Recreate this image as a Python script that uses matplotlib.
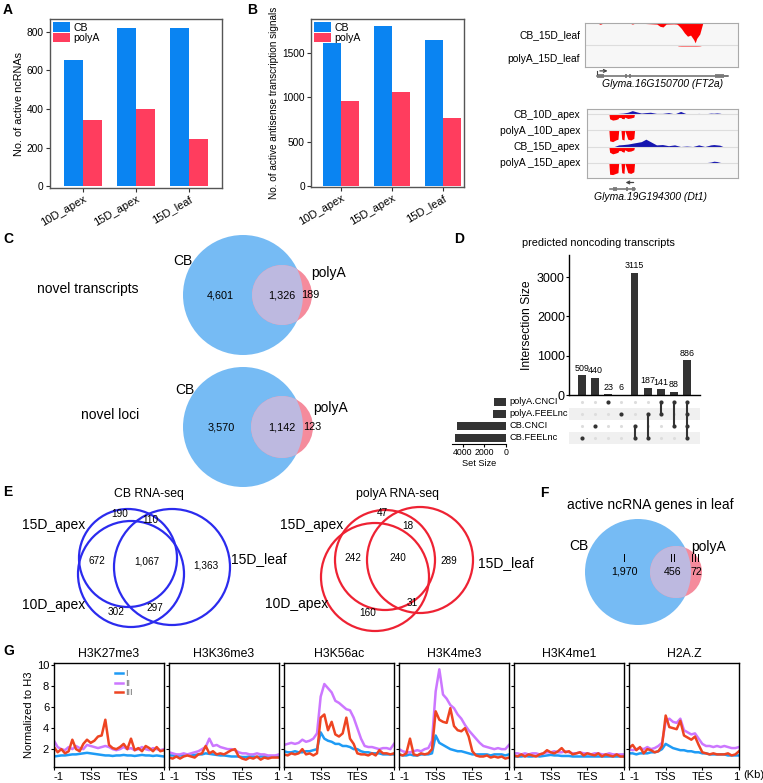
import numpy as np
import matplotlib
matplotlib.use('Agg')
import matplotlib.pyplot as plt
from matplotlib.patches import Circle, Rectangle

plt.rcParams['font.family'] = ['Liberation Sans', 'DejaVu Sans']

# ---------------- data ----------------
cats = ['10D_apex', '15D_apex', '15D_leaf']
a_cb = [655, 820, 822]
a_polya = [345, 400, 245]
b_cb = [1615, 1800, 1650]
b_polya = [955, 1060, 765]

# genome tracks (positions in % of window, depth as fraction of row)
ft2a_pos = [8, 10, 12, 29, 31, 33, 47, 49, 51, 53, 58, 60, 61, 63, 65, 67, 69, 71, 72, 73, 75, 77]
ft2a_cb = [0, 0.06, 0, 0, 0.05, 0, 0.05, 0.15, 0.18, 0.05, 0.04, 0.05, 0.1, 0.25, 0.45, 0.6, 0.55, 0.75, 0.9, 0.7, 0.5, 0]
ft2a_pa = [0, 0, 0, 0, 0, 0, 0, 0, 0, 0, 0, 0, 0.05, 0.06, 0.06, 0.06, 0.06, 0.06, 0.06, 0.06, 0.05, 0]
ft2a_exons = [(7.6, 12.4), (26, 27.2), (29, 30.2), (84.8, 90.7)]
ft2a_utr = [(90.7, 93.5)]
ft2a_span = (7.6, 93.5)

dt1_pos = [14.5, 15, 17, 19, 20.5, 21, 22.5, 23, 24.5, 25, 27, 29, 31, 31.5]
dt1_pa10 = [0, 0.65, 0.7, 0.6, 0.55, 0, 0, 0.55, 0.6, 0, 0.55, 0.6, 0.5, 0]
dt1_pa15 = [0, 0.7, 0.72, 0.65, 0.6, 0, 0, 0.6, 0.65, 0, 0.6, 0.65, 0.55, 0]
dt1_cb10 = [0, 0.3, 0.38, 0.35, 0.3, 0.22, 0.22, 0.28, 0.3, 0.2, 0.28, 0.25, 0.2, 0]
dt1_cb15 = [0, 0.35, 0.45, 0.4, 0.35, 0.25, 0.25, 0.3, 0.35, 0.2, 0.3, 0.28, 0.2, 0]
blue_pos = [18, 21, 24, 27, 30, 33, 36, 39, 42, 46, 50, 54, 58, 62, 66, 70, 74, 78, 82, 84, 86, 88, 90]
blue_cb10 = [0, 0.03, 0.05, 0.1, 0.2, 0.12, 0.05, 0.08, 0.1, 0.03, 0.03, 0.08, 0, 0.15, 0, 0, 0.03, 0, 0.05, 0.04, 0.06, 0.04, 0]
blue_cb15 = [0, 0.1, 0.12, 0.15, 0.2, 0.25, 0.3, 0.45, 0.3, 0.1, 0.12, 0.05, 0.1, 0, 0.03, 0, 0.1, 0, 0.1, 0.12, 0.1, 0.08, 0]
blue_pa15 = [0, 0, 0, 0, 0, 0, 0, 0, 0, 0, 0, 0, 0, 0.02, 0, 0, 0, 0, 0.05, 0.1, 0.08, 0.03, 0]
dt1_exons = [(17.5, 20), (25.8, 27), (29.5, 31.7)]
dt1_span = (15.3, 31.7)

c_trans = [4601, 1326, 189]
c_loci = [3570, 1142, 123]

upset_sets = ['polyA.CNCI', 'polyA.FEELnc', 'CB.CNCI', 'CB.FEELnc']
upset_sizes = [509, 440, 23, 6, 3115, 187, 141, 88, 886]
upset_members = [[3], [2], [0], [1], [2, 3], [1, 3], [0, 1], [0, 2], [0, 1, 2, 3]]
set_sizes = [sum(s for s, m in zip(upset_sizes, upset_members) if i in m) for i in range(4)]

e_cb = {'190': 190, '110': 110, '672': 672, '1067': 1067, '1363': 1363, '302': 302, '297': 297}
e_pa = {'47': 47, '18': 18, '242': 242, '240': 240, '289': 289, '160': 160, '31': 31}
f_vals = [1970, 456, 72]

g_marks = ['H3K27me3', 'H3K36me3', 'H3K56ac', 'H3K4me3', 'H3K4me1', 'H2A.Z']
g_x = [i / 10 for i in range(31)]
g_I = [
    [1.3,1.35,1.4,1.4,1.45,1.5,1.5,1.55,1.6,1.65,1.6,1.55,1.5,1.45,1.4,1.4,1.35,1.4,1.4,1.45,1.4,1.4,1.35,1.4,1.45,1.4,1.4,1.35,1.4,1.35,1.3],
    [1.4,1.4,1.35,1.4,1.4,1.45,1.4,1.45,1.5,1.5,1.6,1.55,1.5,1.45,1.4,1.4,1.35,1.3,1.3,1.3,1.25,1.25,1.3,1.3,1.25,1.3,1.3,1.3,1.3,1.3,1.3],
    [1.8,1.7,1.7,1.8,1.7,1.7,1.8,1.8,1.9,2.0,3.6,3.0,2.8,2.7,2.5,2.5,2.3,2.3,2.2,2.0,2.0,1.8,1.7,1.7,1.6,1.6,1.6,1.5,1.5,1.5,1.5],
    [1.5,1.4,1.4,1.5,1.4,1.4,1.5,1.5,1.5,1.6,3.3,2.6,2.4,2.2,2.0,1.9,1.8,1.8,1.7,1.6,1.5,1.5,1.5,1.5,1.5,1.4,1.5,1.5,1.5,1.4,1.5],
    [1.3,1.3,1.3,1.35,1.3,1.3,1.35,1.3,1.35,1.4,1.45,1.4,1.4,1.35,1.35,1.35,1.3,1.3,1.3,1.3,1.3,1.3,1.3,1.3,1.3,1.3,1.3,1.3,1.3,1.3,1.3],
    [1.6,1.6,1.5,1.6,1.6,1.6,1.7,1.7,1.8,2.0,2.5,2.3,2.1,2.0,1.9,1.9,1.8,1.8,1.7,1.7,1.6,1.6,1.5,1.5,1.5,1.5,1.5,1.4,1.4,1.4,1.4],
]
g_II = [
    [2.8,2.2,2.0,1.9,2.2,2.0,2.3,2.1,2.0,2.4,2.3,2.2,2.1,2.2,2.3,2.2,2.0,1.9,2.0,2.2,2.0,2.1,1.9,2.0,2.2,2.0,1.9,2.1,2.0,1.9,2.0],
    [1.7,1.6,1.5,1.5,1.6,1.5,1.6,1.7,1.8,2.0,2.2,3.0,2.3,2.4,2.2,2.1,2.0,2.0,1.9,1.7,1.6,1.6,1.5,1.5,1.6,1.5,1.5,1.4,1.4,1.4,1.5],
    [2.4,2.5,2.6,2.5,2.6,2.9,2.7,2.8,3.0,3.5,7.0,8.2,7.8,7.4,6.6,6.4,6.1,5.8,5.7,5.0,4.0,3.0,2.3,2.2,2.2,2.1,2.0,2.1,2.1,2.0,2.5],
    [2.0,1.8,1.7,1.7,1.8,1.9,1.8,2.0,2.1,2.8,7.5,9.6,7.2,6.8,6.2,5.9,5.3,4.9,4.3,3.8,3.4,3.0,2.6,2.3,2.2,2.1,2.0,2.1,2.0,2.0,2.4],
    [1.6,1.6,1.5,1.6,1.5,1.6,1.6,1.5,1.6,1.7,1.7,1.8,1.7,1.7,1.8,1.7,1.6,1.6,1.7,1.6,1.6,1.5,1.6,1.6,1.5,1.5,1.6,1.5,1.5,1.5,1.5],
    [2.0,1.9,2.0,2.1,2.0,2.2,2.0,2.1,2.3,2.6,4.6,4.9,4.6,4.5,4.9,3.8,3.6,3.4,3.5,3.0,2.5,2.3,2.3,2.2,2.3,2.2,2.3,2.2,2.1,2.1,2.2],
]
g_III = [
    [2.2,1.7,2.0,1.6,1.8,2.9,2.0,1.8,2.5,2.9,2.6,2.8,3.2,3.3,4.8,2.4,2.1,2.0,2.2,2.5,2.0,3.0,1.9,2.1,1.8,2.3,2.1,1.8,2.2,1.8,1.9],
    [1.2,1.1,1.3,1.1,1.3,1.4,1.3,1.2,1.5,1.6,2.3,1.6,1.8,1.5,1.6,1.5,1.7,1.9,2.0,1.3,1.1,1.0,1.2,1.1,1.3,1.0,1.2,1.1,1.2,1.2,1.2],
    [1.5,1.4,1.6,1.5,1.6,2.0,1.5,1.6,1.4,1.6,5.0,5.3,3.8,4.6,3.4,3.2,3.5,5.0,3.0,2.5,1.6,1.5,1.5,1.4,1.6,1.4,1.9,1.6,1.6,1.5,1.6],
    [1.5,1.4,1.6,3.0,1.5,1.4,1.6,1.5,1.6,2.0,5.6,4.8,4.6,4.5,5.9,4.2,3.8,3.7,4.0,3.2,1.8,1.4,1.3,1.3,1.4,1.2,1.3,1.2,1.3,1.1,1.2],
    [1.4,1.3,1.5,1.3,1.5,1.4,1.3,1.5,1.6,1.9,1.7,1.6,1.8,2.1,1.7,1.8,1.5,1.6,1.7,1.4,1.6,1.5,1.4,1.6,1.3,1.5,1.4,1.3,1.5,1.3,1.3],
    [2.1,2.4,1.9,2.2,1.6,2.0,1.9,1.7,1.8,2.3,5.2,4.1,4.0,3.9,4.7,3.3,3.1,2.9,3.2,2.4,1.7,1.6,1.5,1.6,1.5,1.5,1.5,1.6,1.4,1.5,1.8],
]

# ---------------- styles ----------------
BLUE = '#0A84F2'
RED = '#FF3D5E'
VBLUE = '#76BBF4'
VPINK = '#F58B9C'
VLAV = '#BDB9E0'
G_COL = ['#1E9BF5', '#CC77FF', '#EE4422']

W, H = 763, 783
fig = plt.figure(figsize=(W / 100, H / 100), dpi=100)


def pax(x0, y0, x1, y1):
    return fig.add_axes([x0 / W, 1 - y1 / H, (x1 - x0) / W, (y1 - y0) / H])


ov = pax(0, 0, W, H)
ov.set_xlim(0, W)
ov.set_ylim(H, 0)
ov.axis('off')

for lab, (x, y) in {'A': (3, 3), 'B': (247, 3), 'C': (3, 232), 'D': (454, 232),
                    'E': (3, 485), 'F': (540, 486), 'G': (3, 644)}.items():
    ov.text(x, y, lab, fontsize=10, fontweight='bold', va='top', ha='left')


def style_bar_ax(ax):
    for s in ax.spines.values():
        s.set_color('#555555')
        s.set_linewidth(1.0)
    ax.tick_params(axis='both', labelsize=7.3, length=3, width=0.8, color='#333333', pad=1.5)
    ax.set_xticks(range(3))
    ax.set_xticklabels(cats, rotation=30, ha='right', rotation_mode='anchor', fontsize=8)


# ---------------- A ----------------
axA = pax(50, 19, 222, 188)
xs = np.arange(3)
w = 0.36
axA.bar(xs - w / 2, a_cb, w, color=BLUE, label='CB')
axA.bar(xs + w / 2, a_polya, w, color=RED, label='polyA')
axA.set_xlim(-0.62, 2.62)
axA.set_ylim(-10, 867)
axA.set_yticks([0, 200, 400, 600, 800])
style_bar_ax(axA)
axA.set_ylabel('No. of active ncRNAs', fontsize=7.8, labelpad=2)
axA.legend(loc='upper left', bbox_to_anchor=(0, 1), borderaxespad=0.1, borderpad=0.2,
           handlelength=1.6, handleheight=1.0, handletextpad=0.3, labelspacing=0.05,
           frameon=False, fontsize=7.6)

# ---------------- B ----------------
axB = pax(311, 19, 464, 187)
axB.bar(xs - w / 2, b_cb, w, color=BLUE, label='CB')
axB.bar(xs + w / 2, b_polya, w, color=RED, label='polyA')
axB.set_xlim(-0.59, 2.41)
axB.set_ylim(-11, 1884)
axB.set_yticks([0, 500, 1000, 1500])
style_bar_ax(axB)
axB.set_ylabel('No. of active antisense transcription signals', fontsize=7.2, labelpad=2)
axB.legend(loc='upper left', bbox_to_anchor=(0, 1), borderaxespad=0.1, borderpad=0.2,
           handlelength=1.6, handleheight=1.0, handletextpad=0.3, labelspacing=0.05,
           frameon=False, fontsize=7.6)

# ---------------- genome tracks ----------------
TR = '#FF0000'
TB = '#1515B0'
TFS = 7.4
axT1 = pax(585, 23, 738, 67)
axT1.set_facecolor('#F7F7F7')
axT1.set_xlim(0, 100)
axT1.set_ylim(2, 0)
axT1.axhline(1, color='#DDDDDD', lw=0.8)
axT1.fill_between(ft2a_pos, 0, ft2a_cb, color=TR, lw=0)
axT1.fill_between(ft2a_pos, 1, [1 + v for v in ft2a_pa], color=TR, lw=0, alpha=0.6)
axT1.set_xticks([])
axT1.set_yticks([])
for s in axT1.spines.values():
    s.set_color('#AAAAAA')
    s.set_linewidth(0.8)
ov.text(580, 35, 'CB_15D_leaf', fontsize=TFS, ha='right', va='center')
ov.text(580, 59, 'polyA_15D_leaf', fontsize=TFS, ha='right', va='center')

axG1 = pax(585, 66, 738, 80)
axG1.set_xlim(0, 100)
axG1.set_ylim(1, 0)
axG1.axis('off')
axG1.plot(ft2a_span, [0.72, 0.72], color='#777777', lw=1.2)
for a, b in ft2a_exons:
    axG1.add_patch(Rectangle((a, 0.55), b - a, 0.34, color='#888888', lw=0))
for a, b in ft2a_utr:
    axG1.add_patch(Rectangle((a, 0.62), b - a, 0.2, color='#888888', lw=0))
axG1.plot([ft2a_span[0] + 0.5, ft2a_span[0] + 0.5], [0.35, 0.6], color='#444444', lw=0.8)
axG1.annotate('', xy=(ft2a_span[0] + 9, 0.35), xytext=(ft2a_span[0] + 0.3, 0.35),
              arrowprops=dict(arrowstyle='->', color='#444444', lw=0.9, mutation_scale=5))
ov.text(663, 84, 'Glyma.16G150700 (FT2a)', fontsize=7.5, style='italic', ha='center', va='center')

axT2 = pax(587, 109, 738, 178)
axT2.set_facecolor('#F7F7F7')
axT2.set_xlim(0, 100)
axT2.set_ylim(4.23, 0)
rows = [(dt1_cb10, blue_cb10), (dt1_pa10, None), (dt1_cb15, blue_cb15), (dt1_pa15, blue_pa15)]
for k, (red, blue) in enumerate(rows):
    b0 = 0.3 + k
    axT2.axhline(b0, color='#DDDDDD', lw=0.8)
    axT2.fill_between(dt1_pos, b0, [b0 + v for v in red], color=TR, lw=0)
    if blue is not None:
        axT2.fill_between(blue_pos, [b0 - v for v in blue], b0, color=TB, lw=0)
axT2.set_xticks([])
axT2.set_yticks([])
for s in axT2.spines.values():
    s.set_color('#AAAAAA')
    s.set_linewidth(0.8)
for lab, y in zip(['CB_10D_apex', 'polyA _10D_apex', 'CB_15D_apex', 'polyA _15D_apex'],
                  [115, 131, 147, 163]):
    ov.text(580, y, lab, fontsize=TFS, ha='right', va='center')

axG2 = pax(587, 178, 738, 193)
axG2.set_xlim(0, 100)
axG2.set_ylim(1, 0)
axG2.axis('off')
axG2.plot(dt1_span, [0.72, 0.72], color='#777777', lw=1.2)
for a, b in dt1_exons:
    axG2.add_patch(Rectangle((a, 0.58), b - a, 0.28, color='#888888', lw=0))
axG2.annotate('', xy=(dt1_span[1] - 8, 0.3), xytext=(dt1_span[1] + 1, 0.3),
              arrowprops=dict(arrowstyle='->', color='#444444', lw=0.9, mutation_scale=5))
ov.text(650, 197, 'Glyma.19G194300 (Dt1)', fontsize=7.5, style='italic', ha='center', va='center')


# ---------------- C venn ----------------
def venn2(cx, cy, R, sx, r):
    big = Circle((cx, cy), R, fc=VBLUE, ec='none')
    ov.add_patch(big)
    sm = Circle((sx, cy), r, fc=VPINK, ec='none')
    ov.add_patch(sm)
    lav = Circle((sx, cy), r, fc=VLAV, ec='none')
    ov.add_patch(lav)
    lav.set_clip_path(big)
    return big


venn2(243, 295, 60, 282, 30)
ov.text(220, 295, f'{c_trans[0]:,}', fontsize=7.8, ha='center', va='center')
ov.text(282, 295, f'{c_trans[1]:,}', fontsize=7.8, ha='center', va='center')
ov.text(310, 295, f'{c_trans[2]:,}', fontsize=7.8, ha='center', va='center')
ov.text(192, 261, 'CB', fontsize=10, ha='right', va='center')
ov.text(311, 273, 'polyA', fontsize=10, ha='left', va='center')
ov.text(88, 289, 'novel transcripts', fontsize=10, ha='center', va='center')

venn2(243, 427, 60, 282, 31)
ov.text(221, 427, f'{c_loci[0]:,}', fontsize=7.8, ha='center', va='center')
ov.text(282, 427, f'{c_loci[1]:,}', fontsize=7.8, ha='center', va='center')
ov.text(312, 427, f'{c_loci[2]:,}', fontsize=7.8, ha='center', va='center')
ov.text(195, 390, 'CB', fontsize=10, ha='right', va='center')
ov.text(313, 408, 'polyA', fontsize=10, ha='left', va='center')
ov.text(110, 415, 'novel loci', fontsize=10, ha='center', va='center')

# ---------------- D upset ----------------
DB = '#333333'
axD = pax(569, 255, 700, 395)
ux = np.arange(len(upset_sizes))
axD.bar(ux, upset_sizes, 0.6, color=DB)
for xi, v in zip(ux, upset_sizes):
    axD.text(xi, v + 60, str(v), ha='center', va='bottom', fontsize=6.4)
axD.set_xlim(-1, 9)
axD.set_ylim(0, 3560)
axD.set_yticks([0, 1000, 2000, 3000])
axD.set_xticks([])
for s in ['top', 'right']:
    axD.spines[s].set_visible(False)
axD.spines['left'].set_linewidth(1.0)
axD.spines['bottom'].set_linewidth(1.0)
axD.tick_params(axis='y', labelsize=9, length=2, pad=1)
axD.set_ylabel('Intersection Size', fontsize=8.7, labelpad=3)
ov.text(598, 243, 'predicted noncoding transcripts', fontsize=7.8, ha='center', va='center')

axM = pax(569, 396, 700, 444)
axM.set_xlim(-1, 9)
axM.set_ylim(3.5, -0.5)
axM.axis('off')
for r in [1, 3]:
    axM.axhspan(r - 0.5, r + 0.5, color='#F0F0F0', lw=0)
for ci, mem in enumerate(upset_members):
    axM.scatter([ci] * 4, range(4), s=5, color='#DDDDDD', zorder=2, lw=0)
    axM.scatter([ci] * len(mem), mem, s=9, color=DB, zorder=3, lw=0)
    if len(mem) > 1:
        axM.plot([ci, ci], [min(mem), max(mem)], color=DB, lw=1.5, zorder=3)

axS = pax(452, 396, 506, 444)
axS.barh(range(4), set_sizes, 0.62, color=DB)
axS.set_xlim(5000, 0)
axS.set_ylim(3.5, -0.5)
axS.set_yticks([])
axS.set_xticks([4000, 2000, 0])
for s in ['top', 'right', 'left']:
    axS.spines[s].set_visible(False)
axS.spines['bottom'].set_linewidth(0.8)
axS.tick_params(axis='x', labelsize=6.3, length=2, pad=1)
axS.set_xlabel('Set Size', fontsize=6.6, labelpad=1)
for k, name in enumerate(upset_sets):
    ov.text(509, 402 + 12 * k, name, fontsize=6.7, ha='left', va='center')

# ---------------- E venn3 (outlines) ----------------
ov.text(149, 494, 'CB RNA-seq', fontsize=8.8, ha='center', va='center')
for (cx, cy, r) in [(128, 558, 49), (131, 574, 53), (172, 567, 58)]:
    ov.add_patch(Circle((cx, cy), r, fc='none', ec='#2B2BEE', lw=1.6))
ov.text(85, 525, '15D_apex', fontsize=10, ha='right', va='center')
ov.text(231, 559, '15D_leaf', fontsize=10, ha='left', va='center')
ov.text(85, 605, '10D_apex', fontsize=10, ha='right', va='center')
for key, (x, y) in zip(e_cb, [(120, 514), (150, 520), (97, 561), (147, 561), (206, 566), (116, 612), (155, 608)]):
    ov.text(x, y, f'{e_cb[key]:,}', fontsize=7.2, ha='center', va='center')

ov.text(398, 494, 'polyA RNA-seq', fontsize=8.8, ha='center', va='center')
for (cx, cy, r) in [(385, 560, 50), (375, 577, 54), (420, 560, 53)]:
    ov.add_patch(Circle((cx, cy), r, fc='none', ec='#EE2233', lw=1.6))
ov.text(343, 525, '15D_apex', fontsize=10, ha='right', va='center')
ov.text(478, 563, '15D_leaf', fontsize=10, ha='left', va='center')
ov.text(328, 604, '10D_apex', fontsize=10, ha='right', va='center')
for key, (x, y) in zip(e_pa, [(382, 513), (408, 526), (353, 558), (398, 558), (449, 561), (368, 613), (412, 603)]):
    ov.text(x, y, f'{e_pa[key]:,}', fontsize=7.2, ha='center', va='center')

# ---------------- F ----------------
ov.text(650, 505, 'active ncRNA genes in leaf', fontsize=10, ha='center', va='center')
venn2(638, 572, 53, 676, 26)
ov.text(588, 546, 'CB', fontsize=10, ha='right', va='center')
ov.text(691, 547, 'polyA', fontsize=10, ha='left', va='center')
for lab, v, x in zip(['I', 'II', 'III'], f_vals, [624, 673, 696]):
    ov.text(x, 559, lab, fontsize=7.7, ha='center', va='center')
    ov.text(x, 572, f'{v:,}', fontsize=7.7, ha='center', va='center')

# ---------------- G ----------------
g_left = [54, 169, 284, 399, 514, 629]
for i, mark in enumerate(g_marks):
    ax = pax(g_left[i], 663, g_left[i] + 110, 767)
    ax.plot(g_x, g_I[i], color=G_COL[0], lw=1.8, label='I')
    ax.plot(g_x, g_II[i], color=G_COL[1], lw=1.8, label='II')
    ax.plot(g_x, g_III[i], color=G_COL[2], lw=1.8, label='III')
    ax.set_xlim(0, 3)
    ax.set_ylim(0.3, 10.2)
    ax.set_yticks([2, 4, 6, 8, 10])
    ax.set_xticks([0, 1, 2, 3])
    ax.set_xticklabels(['-1', 'TSS', 'TES', '1'])
    tl = ax.get_xticklabels()
    tl[0].set_ha('left')
    tl[-1].set_ha('right')
    ax.tick_params(labelsize=8, length=2, pad=1.5)
    for s in ax.spines.values():
        s.set_linewidth(1.0)
    ax.set_title(mark, fontsize=8.8, pad=4)
    if i == 0:
        ax.set_ylabel('Normalized to H3', fontsize=8, labelpad=2)
        ax.legend(loc='upper left', bbox_to_anchor=(0.5, 1.0), frameon=False, fontsize=6.5,
                  handlelength=0.8, handletextpad=0.3, labelspacing=0.05, borderpad=0.2,
                  labelcolor='#666666')
    else:
        ax.set_yticklabels([])
ov.text(743, 775, '(Kb)', fontsize=8, ha='left', va='center')

fig.savefig('out.png', dpi=100)
